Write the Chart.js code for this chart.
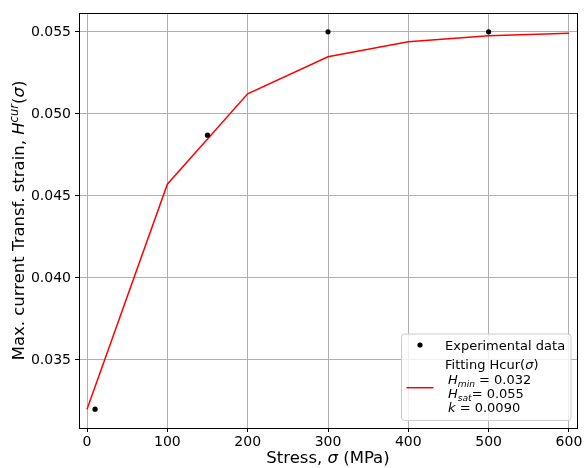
<!DOCTYPE html>
<html><head><meta charset="utf-8">
<script src="https://cdn.jsdelivr.net/npm/chart.js@4"></script>
<style>html,body{margin:0;padding:0;background:#fff;}canvas{display:block;}</style>
</head><body>
<canvas id="c" width="585" height="468"></canvas>
<script>
// ---- data ----
const expStress = [10, 150, 300, 500];
const expStrain = [0.0320, 0.0487, 0.0550, 0.0550];
const fitStress = [0, 100, 200, 300, 400, 500, 600];
const fitStrain = [0.0320, 0.04571, 0.05122, 0.05348, 0.05439, 0.05476, 0.05492];
const xTicks = [0, 100, 200, 300, 400, 500, 600];
const yTicks = [0.035, 0.040, 0.045, 0.050, 0.055];
const seriesNames = ['Experimental data', 'Fitting Hcur'];
const fitParamNames = ['min', 'sat', 'k'];
const fitParamValues = ['0.032', '0.055', '0.0090'];

const FAM = "'DejaVu Sans'";

function richWidth(ctx, segs, size) {
  let w = 0;
  for (const s of segs) {
    const sz = size * (s.sc || 1);
    ctx.font = (s.it ? 'oblique ' : '') + sz + 'px ' + FAM;
    w += ctx.measureText(s.t).width;
  }
  return w;
}
function drawRich(ctx, segs, x, y, size, align) {
  const total = richWidth(ctx, segs, size);
  let cx = align === 'center' ? x - total / 2 : x;
  ctx.textBaseline = 'alphabetic';
  ctx.textAlign = 'left';
  for (const s of segs) {
    const sz = size * (s.sc || 1);
    ctx.font = (s.it ? 'oblique ' : '') + sz + 'px ' + FAM;
    ctx.fillText(s.t, cx, y + (s.dy || 0) * size);
    cx += ctx.measureText(s.t).width;
  }
}

const decor = {
  id: 'decor',
  afterDraw(chart) {
    const ctx = chart.ctx;
    const a = chart.chartArea;
    ctx.save();
    // spines
    ctx.strokeStyle = '#000';
    ctx.lineWidth = 1;
    ctx.strokeRect(Math.round(a.left) + 0.5, Math.round(a.top) + 0.5,
                   Math.round(a.right - a.left) - 0, Math.round(a.bottom - a.top) - 0);
    ctx.fillStyle = '#000';
    // x title
    drawRich(ctx, [{t: 'Stress, '}, {t: 'σ', it: true}, {t: ' (MPa)'}],
             (a.left + a.right) / 2, 462.5, 16.5, 'center');
    // y title
    ctx.save();
    ctx.translate(24, (a.top + a.bottom) / 2);
    ctx.rotate(-Math.PI / 2);
    drawRich(ctx, [{t: 'Max. current Transf. strain, '}, {t: 'H', it: true},
                   {t: 'cur', it: true, sc: 0.7, dy: -0.38}, {t: '('}, {t: 'σ', it: true}, {t: ')'}],
             0, 0, 16.5, 'center');
    ctx.restore();
    // legend box
    const bx = 401.5, by = 334, bw = 169.5, bh = 86.5, r = 3;
    ctx.beginPath();
    ctx.moveTo(bx + r, by);
    ctx.lineTo(bx + bw - r, by);
    ctx.quadraticCurveTo(bx + bw, by, bx + bw, by + r);
    ctx.lineTo(bx + bw, by + bh - r);
    ctx.quadraticCurveTo(bx + bw, by + bh, bx + bw - r, by + bh);
    ctx.lineTo(bx + r, by + bh);
    ctx.quadraticCurveTo(bx, by + bh, bx, by + bh - r);
    ctx.lineTo(bx, by + r);
    ctx.quadraticCurveTo(bx, by, bx + r, by);
    ctx.closePath();
    ctx.fillStyle = 'rgba(255,255,255,0.8)';
    ctx.fill();
    ctx.strokeStyle = '#cccccc';
    ctx.lineWidth = 1;
    ctx.stroke();
    // legend entries
    ctx.fillStyle = '#000';
    ctx.beginPath();
    ctx.arc(420, 345, 2.6, 0, Math.PI * 2);
    ctx.fill();
    ctx.strokeStyle = '#ff0000';
    ctx.lineWidth = 1.5;
    ctx.beginPath();
    ctx.moveTo(406.5, 387.7);
    ctx.lineTo(433.5, 387.7);
    ctx.stroke();
    ctx.fillStyle = '#000';
    const fs = 13;
    drawRich(ctx, [{t: seriesNames[0]}], 445, 349.5, fs, 'left');
    drawRich(ctx, [{t: seriesNames[1] + '('}, {t: 'σ', it: true}, {t: ')'}], 445, 368.5, fs, 'left');
    drawRich(ctx, [{t: 'H', it: true}, {t: fitParamNames[0], it: true, sc: 0.7, dy: 0.2}, {t: ' = ' + fitParamValues[0]}], 448, 384, fs, 'left');
    drawRich(ctx, [{t: 'H', it: true}, {t: fitParamNames[1], it: true, sc: 0.7, dy: 0.2}, {t: '= ' + fitParamValues[1]}], 448, 398, fs, 'left');
    drawRich(ctx, [{t: fitParamNames[2], it: true}, {t: ' = ' + fitParamValues[2]}], 448, 412, fs, 'left');
    ctx.restore();
  }
};

const tickFont = {family: FAM, size: 14};
new Chart(document.getElementById('c'), {
  type: 'scatter',
  data: {
    datasets: [
      {
        label: seriesNames[0],
        data: expStress.map((x, i) => ({x: x, y: expStrain[i]})),
        backgroundColor: '#000', borderColor: '#000',
        pointRadius: 2.6, pointBorderWidth: 0, showLine: false
      },
      {
        label: seriesNames[1],
        data: fitStress.map((x, i) => ({x: x, y: fitStrain[i]})),
        borderColor: '#ff0000', backgroundColor: '#ff0000',
        borderWidth: 1.5, pointRadius: 0, showLine: true, fill: false, tension: 0
      }
    ]
  },
  options: {
    responsive: false, animation: false, devicePixelRatio: 1,
    layout: {padding: {left: 0, right: 8, top: 13, bottom: 0}},
    plugins: {legend: {display: false}, tooltip: {enabled: false}},
    scales: {
      x: {
        type: 'linear', min: -10, max: 610,
        afterBuildTicks: s => { s.ticks = xTicks.map(v => ({value: v})); },
        afterFit: s => { s.height = 40; s.paddingLeft = 0; s.paddingRight = 0; },
        ticks: {font: tickFont, color: '#000', padding: 2, maxRotation: 0, autoSkip: false,
                callback: v => String(v)},
        grid: {color: '#b0b0b0', lineWidth: 1, tickColor: '#000', tickLength: 4, tickWidth: 1},
        border: {display: false}
      },
      y: {
        type: 'linear', min: 0.03085, max: 0.05615,
        afterBuildTicks: s => { s.ticks = yTicks.map(v => ({value: v})); },
        afterFit: s => { s.width = 79; s.paddingTop = 0; s.paddingBottom = 0; },
        ticks: {font: tickFont, color: '#000', padding: 4, autoSkip: false,
                callback: v => v.toFixed(3)},
        grid: {color: '#b0b0b0', lineWidth: 1, tickColor: '#000', tickLength: 4, tickWidth: 1},
        border: {display: false}
      }
    }
  },
  plugins: [decor]
});
</script>
</body></html>
